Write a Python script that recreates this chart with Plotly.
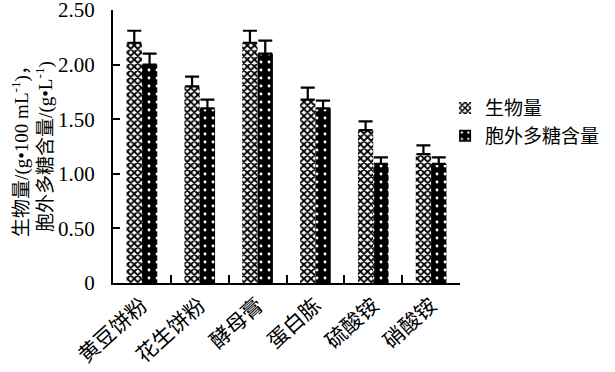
import plotly.graph_objects as go

categories = ["黄豆饼粉", "花生饼粉", "酵母膏", "蛋白胨", "硫酸铵", "硝酸铵"]
biomass = [2.20, 1.80, 2.20, 1.68, 1.40, 1.18]
biomass_err = [0.11, 0.09, 0.11, 0.11, 0.08, 0.08]
eps = [2.00, 1.60, 2.10, 1.60, 1.09, 1.09]
eps_err = [0.10, 0.08, 0.12, 0.07, 0.06, 0.06]
series_names = ["生物量", "胞外多糖含量"]
y_ticks = [0, 0.5, 1.0, 1.5, 2.0, 2.5]
y_ticklabels = ["0", "0.50", "1.00", "1.50", "2.00", "2.50"]

FONT = "Liberation Serif, Times New Roman, Noto Sans CJK SC, serif"

fig = go.Figure()
fig.add_trace(go.Bar(
    name=series_names[0], x=categories, y=biomass,
    marker=dict(color="white", line=dict(width=0),
                pattern=dict(shape="x", fgcolor="black", bgcolor="white",
                             size=5, solidity=0.6, fillmode="replace")),
    error_y=dict(type="data", array=biomass_err, arrayminus=[0]*6, symmetric=False,
                 color="black", thickness=2.2, width=7),
))
fig.add_trace(go.Bar(
    name=series_names[1], x=categories, y=eps,
    marker=dict(color="black", line=dict(width=0),
                pattern=dict(shape=".", fgcolor="white", bgcolor="black",
                             size=8, solidity=0.1, fillmode="replace")),
    error_y=dict(type="data", array=eps_err, arrayminus=[0]*6, symmetric=False,
                 color="black", thickness=2.2, width=7),
))

fig.update_layout(
    width=615, height=372,
    margin=dict(l=113, r=150, t=10, b=89),
    paper_bgcolor="white", plot_bgcolor="white",
    barmode="group", bargap=0.47, bargroupgap=0,
    font=dict(family=FONT, color="black", size=18),
    showlegend=True,
    legend=dict(x=0.957, y=0.71, xanchor="left", yanchor="top",
                font=dict(size=19, family=FONT), bgcolor="rgba(0,0,0,0)",
                tracegroupgap=0, itemwidth=30),
    xaxis=dict(
        automargin=False,
        showline=True, linecolor="black", linewidth=2,
        ticks="inside", ticklen=8, tickwidth=2, tickcolor="black",
        tickson="boundaries", tickangle=-42,
        tickfont=dict(size=21, family=FONT),
        showgrid=False, zeroline=False,
    ),
    yaxis=dict(
        automargin=False,
        range=[0, 2.5], tickvals=y_ticks, ticktext=y_ticklabels,
        showline=True, linecolor="black", linewidth=2,
        ticks="inside", ticklen=7, tickwidth=2, tickcolor="black",
        tickfont=dict(size=21, family=FONT), ticklabelstandoff=12,
        ticklabeloverflow="allow",
        showgrid=False, zeroline=False,
        title=dict(text="生物量/(g•100 mL<sup>-1</sup>)，<br>胞外多糖含量/(g•L<sup>-1</sup>)",
                   font=dict(size=19, family=FONT, color="black"), standoff=0),
    ),
)

fig.write_html("out.html", config={"displayModeBar": False},
               post_script="document.body.style.margin='0';document.body.style.padding='0';")
